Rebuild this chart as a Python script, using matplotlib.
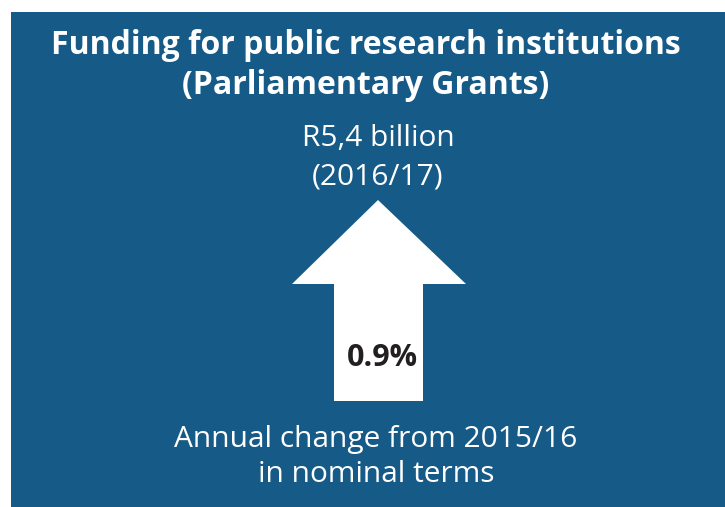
import matplotlib.pyplot as plt
from matplotlib.patches import Polygon, Rectangle

# panel text
title_lines = ["Funding for public research institutions", "(Parliamentary Grants)"]
amount_lines = ["R5,4 billion", "(2016/17)"]
change_value = 0.9  # annual change, %
footer_lines = ["Annual change from 2015/16", "in nominal terms"]

bg = "#165a88"

fig = plt.figure(figsize=(7.25, 5.07), dpi=100)
ax = fig.add_axes([0, 0, 1, 1])
ax.set_xlim(0, 725)
ax.set_ylim(507, 0)
ax.axis("off")

# blue panel
ax.add_patch(Rectangle((11, 12), 714, 495, color=bg, lw=0))

# up arrow
arrow = [(378, 200), (466, 284), (423, 284), (423, 401),
         (334, 401), (334, 284), (292, 284)]
ax.add_patch(Polygon(arrow, closed=True, color="white", lw=0))

fam = ["Open Sans", "DejaVu Sans"]
ax.text(366, 45, title_lines[0], ha="center", va="center", color="white",
        fontsize=23, fontweight="bold", family=fam)
ax.text(366, 85, title_lines[1], ha="center", va="center", color="white",
        fontsize=23, fontweight="bold", family=fam)

ax.text(378, 138, amount_lines[0], ha="center", va="center", color="white",
        fontsize=21.5, family=fam)
ax.text(378, 177, amount_lines[1], ha="center", va="center", color="white",
        fontsize=21.5, family=fam)

ax.text(382, 358, f"{change_value}%", ha="center", va="center", color="#231f20",
        fontsize=22, fontweight="bold", family=fam)

ax.text(376, 440, footer_lines[0], ha="center", va="center", color="white",
        fontsize=21.5, family=fam)
ax.text(376, 474, footer_lines[1], ha="center", va="center", color="white",
        fontsize=21.5, family=fam)

fig.savefig("out.png", dpi=100, facecolor="white")
